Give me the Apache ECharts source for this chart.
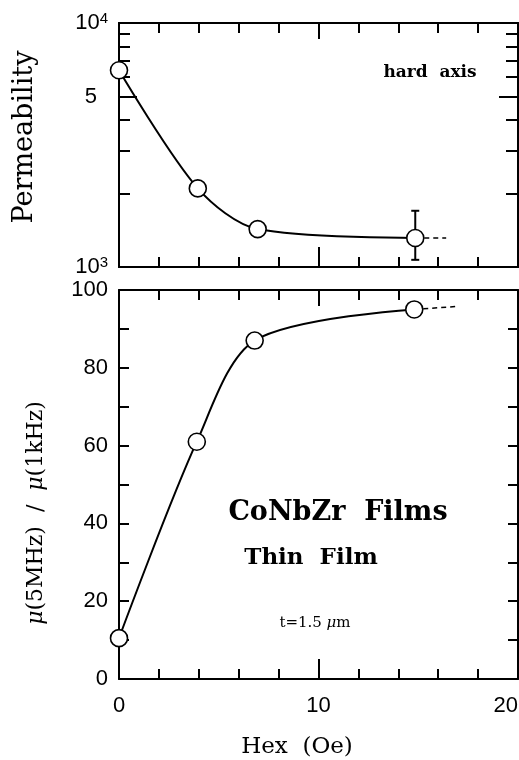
<!DOCTYPE html>
<html>
<head>
<meta charset="utf-8">
<script src="https://cdn.jsdelivr.net/npm/echarts@6/dist/echarts.min.js"></script>
<style>
  html, body { margin: 0; padding: 0; background: #fff; }
  #chart { width: 519px; height: 760px; }
</style>
</head>
<body>
<div id="chart"></div>
<script>
// 上图: hard axis permeability
const hexTop = [0, 3.95, 6.95, 14.85]
const permTop = [6400, 2100, 1430, 1315]
const errX = [14.85]
const errLow = [1070]
const errHigh = [1700]
const topDashX = [14.85, 16.4]
const topDashY = [1315, 1315]

// 下图: μ(5MHz)/μ(1kHz)
const hexBottom = [0, 3.9, 6.8, 14.8]
const ratio = [10.5, 61, 87, 95]
const botDashX = [14.8, 17.0]
const botDashY = [95, 95.8]

const xTicks = [0, 10, 20]
const logLabels = [1000, 5000, 10000]
const logMinor = [2000, 3000, 4000, 6000, 7000, 8000, 9000]

const black = '#000'
const serif = 'DejaVu Serif'
const sans = 'Liberation Sans'
const zip = (a, b) => a.map((v, i) => [v, b[i]])

const lineSty = { color: black, width: 2 }

function xAxis(grid, pos, labels) {
  return {
    type: 'value', gridIndex: grid, position: pos, min: 0, max: 20, interval: 10,
    axisLine: { onZero: false, lineStyle: lineSty },
    axisTick: { inside: true, length: pos === 'top' ? 16 : 20, lineStyle: lineSty },
    minorTick: { show: true, splitNumber: 5, length: 10, lineStyle: lineSty },
    splitLine: { show: false },
    minorSplitLine: { show: false },
    axisLabel: {
      show: labels, color: black, fontFamily: sans, fontSize: 22, margin: 16,
      alignMaxLabel: 'right',
      formatter: v => (xTicks.includes(v) ? String(v) : '')
    }
  }
}

function logAxis(pos, ticks, len, labels) {
  return {
    type: 'log', logBase: 10, gridIndex: 0, position: pos, min: 1000, max: 10000,
    axisLine: { onZero: false, lineStyle: lineSty },
    axisTick: { inside: true, length: len, customValues: ticks, lineStyle: lineSty },
    minorTick: { show: false },
    splitLine: { show: false },
    axisLabel: labels ? {
      customValues: logLabels, color: black, margin: 11,
      formatter: v => (v === 10000 ? '{a|10}{s|4}' : v === 1000 ? '{a|10}{s|3}' : '{c|5}'),
      rich: {
        a: { fontFamily: sans, fontSize: 22, color: black, lineHeight: 24 },
        s: { fontFamily: sans, fontSize: 15, color: black, verticalAlign: 'top' },
        c: { fontFamily: sans, fontSize: 22, color: black, padding: [0, 11, 0, 0] }
      }
    } : { show: false }
  }
}

function ratioAxis(pos, labels) {
  return {
    type: 'value', gridIndex: 1, position: pos, min: 0, max: 100, interval: 10,
    axisLine: { onZero: false, lineStyle: lineSty },
    axisTick: { inside: true, length: 10, lineStyle: lineSty },
    splitLine: { show: false },
    axisLabel: {
      show: labels, color: black, fontFamily: sans, fontSize: 22, margin: 11,
      formatter: v => (v % 20 === 0 ? String(v) : '')
    }
  }
}

const circle = {
  symbol: 'circle', symbolSize: 17,
  itemStyle: { color: '#fff', borderColor: black, borderWidth: 1.6 }
}

const chart = echarts.init(document.getElementById('chart'))
chart.setOption({
  backgroundColor: '#fff',
  animation: false,
  grid: [
    { left: 119, top: 23, width: 399, height: 244, outerBoundsMode: 'none' },
    { left: 119, top: 290, width: 399, height: 389, outerBoundsMode: 'none' }
  ],
  xAxis: [
    xAxis(0, 'bottom', false),
    xAxis(0, 'top', false),
    xAxis(1, 'bottom', true),
    xAxis(1, 'top', false)
  ],
  yAxis: [
    logAxis('left', [5000], 18, true),
    logAxis('left', logMinor, 11, false),
    logAxis('right', [5000], 19, false),
    logAxis('right', logMinor, 12, false),
    ratioAxis('left', true),
    ratioAxis('right', false)
  ],
  series: [
    {
      type: 'line', xAxisIndex: 0, yAxisIndex: 0, data: zip(topDashX, topDashY),
      symbol: 'none', lineStyle: { color: black, width: 1.5, type: [5, 4] }, z: 1
    },
    {
      type: 'custom', xAxisIndex: 0, yAxisIndex: 0, z: 1,
      data: errX.map((x, i) => [x, errLow[i], errHigh[i]]),
      renderItem: (params, api) => {
        const lo = api.coord([api.value(0), api.value(1)])
        const hi = api.coord([api.value(0), api.value(2)])
        const st = { stroke: black, lineWidth: 2 }
        return {
          type: 'group',
          children: [
            { type: 'line', shape: { x1: lo[0], y1: lo[1], x2: hi[0], y2: hi[1] }, style: st },
            { type: 'line', shape: { x1: lo[0] - 4, y1: lo[1], x2: lo[0] + 4, y2: lo[1] }, style: st },
            { type: 'line', shape: { x1: hi[0] - 4, y1: hi[1], x2: hi[0] + 4, y2: hi[1] }, style: st }
          ]
        }
      }
    },
    {
      type: 'line', xAxisIndex: 0, yAxisIndex: 0, data: zip(hexTop, permTop),
      smooth: 0.3, lineStyle: { color: black, width: 2 }, z: 3, ...circle
    },
    {
      type: 'line', xAxisIndex: 2, yAxisIndex: 4, data: zip(botDashX, botDashY),
      symbol: 'none', lineStyle: { color: black, width: 1.5, type: [5, 4] }, z: 1
    },
    {
      type: 'line', xAxisIndex: 2, yAxisIndex: 4, data: zip(hexBottom, ratio),
      smooth: 0.3, lineStyle: { color: black, width: 2 }, z: 3, ...circle
    }
  ],
  graphic: [
    {
      type: 'text', x: 25, y: 137, rotation: Math.PI / 2,
      style: { text: 'Permeability', font: '27px "DejaVu Serif"', fill: black, align: 'center', verticalAlign: 'middle' }
    },
    {
      type: 'text', x: 36, y: 513, rotation: Math.PI / 2,
      style: {
        text: '{i|μ}(5MHz)  /  {i|μ}(1kHz)', fill: black, align: 'center', verticalAlign: 'middle',
        font: '22px "DejaVu Serif"',
        rich: {
          i: { fontFamily: serif, fontSize: 22, fontStyle: 'italic', fill: black }
        }
      }
    },
    {
      type: 'text', x: 297, y: 747,
      style: { text: 'Hex  (Oe)', font: '23px "DejaVu Serif"', fill: black, align: 'center', verticalAlign: 'middle' }
    },
    {
      type: 'text', x: 430, y: 73,
      style: { text: 'hard  axis', font: 'bold 17px "DejaVu Serif"', fill: black, align: 'center', verticalAlign: 'middle' }
    },
    {
      type: 'text', x: 338, y: 513,
      style: { text: 'CoNbZr  Films', font: 'bold 27px "DejaVu Serif"', fill: black, align: 'center', verticalAlign: 'middle' }
    },
    {
      type: 'text', x: 311, y: 558,
      style: { text: 'Thin  Film', font: 'bold 23px "DejaVu Serif"', fill: black, align: 'center', verticalAlign: 'middle' }
    },
    {
      type: 'text', x: 315, y: 623,
      style: {
        text: 't=1.5 {i|μ}m', font: '15px "DejaVu Serif"', fill: black, align: 'center', verticalAlign: 'middle',
        rich: { i: { fontFamily: serif, fontSize: 15, fontStyle: 'italic', fill: black } }
      }
    }
  ]
})
</script>
</body>
</html>
